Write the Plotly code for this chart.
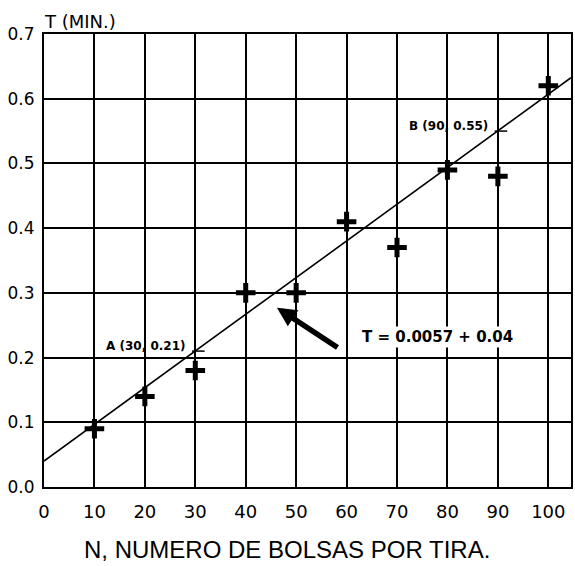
import plotly.graph_objects as go

# Data
n_values = [10, 20, 30, 40, 50, 60, 70, 80, 90, 100]
t_values = [0.09, 0.14, 0.18, 0.30, 0.30, 0.41, 0.37, 0.49, 0.48, 0.62]
fit_slope = 0.00567
fit_intercept = 0.04
fit_x = [0, 104.5]
fit_y = [fit_intercept + fit_slope * v for v in fit_x]
ref_labels = ["A (30, 0.21)", "B (90, 0.55)"]
ref_x = [30, 90]
ref_y = [0.21, 0.55]
x_ticks = [0, 10, 20, 30, 40, 50, 60, 70, 80, 90, 100]
y_ticks = [0.0, 0.1, 0.2, 0.3, 0.4, 0.5, 0.6, 0.7]

FONT = "Liberation Sans, Arial, sans-serif"
WIDE = "DejaVu Sans, sans-serif"

fig = go.Figure()
fig.add_trace(go.Scatter(x=fit_x, y=fit_y, mode="lines",
                         line=dict(color="black", width=1.6), showlegend=False, hoverinfo="skip"))
fig.add_trace(go.Scatter(x=n_values, y=t_values, mode="markers",
                         marker=dict(symbol="cross-thin", size=14, line=dict(color="black", width=5)),
                         showlegend=False))
fig.add_trace(go.Scatter(x=[v + 0.6 for v in ref_x], y=ref_y, mode="markers",
                         marker=dict(symbol="line-ew", size=9, line=dict(color="black", width=1.5)),
                         showlegend=False, hoverinfo="skip"))

for lbl, xv, yv in zip(ref_labels, ref_x, ref_y):
    fig.add_annotation(x=xv - 1.6, y=yv, text="<b>" + lbl + "</b>", showarrow=False,
                       xanchor="right", yanchor="middle", yshift=5,
                       font=dict(family=WIDE, size=12, color="black"))

fig.add_annotation(x=78.1, y=0.232, text="<b>T = 0.0057 + 0.04</b>", showarrow=False,
                   font=dict(family=WIDE, size=15, color="black"), bgcolor="white")
fig.add_annotation(x=46.2, y=0.277, ax=58.5, ay=0.214, axref="x", ayref="y",
                   xref="x", yref="y", text="", showarrow=True,
                   arrowhead=2, arrowsize=0.7, arrowwidth=5.5, arrowcolor="black")

fig.add_annotation(x=0, y=1, xref="paper", yref="paper", text="T (MIN.)", showarrow=False,
                   xanchor="left", yanchor="middle", yshift=13, xshift=-2,
                   font=dict(family=WIDE, size=18, color="black"))

fig.add_annotation(x=0.461, y=0, xref="paper", yref="paper", text="N, NUMERO DE BOLSAS POR TIRA.",
                   showarrow=False, xanchor="center", yanchor="middle", yshift=-62,
                   font=dict(family=FONT, size=24, color="black"))

fig.update_xaxes(range=[0, 104.5], tickvals=x_ticks, showgrid=True, gridcolor="black", gridwidth=2,
                 showline=True, linecolor="black", linewidth=2, mirror=True, zeroline=False,
                 ticks="", ticklabelstandoff=7, tickfont=dict(family=WIDE, size=18, color="black"))
fig.update_yaxes(range=[0, 0.7], tickvals=y_ticks, tickformat=".1f", showgrid=True, gridcolor="black",
                 gridwidth=2, showline=True, linecolor="black", linewidth=2, mirror=True, zeroline=False,
                 ticks="", ticklabelstandoff=4, tickfont=dict(family=WIDE, size=17, color="black"))

fig.update_layout(width=575, height=566, margin=dict(l=44, r=2, t=34, b=79),
                  plot_bgcolor="white", paper_bgcolor="white")

fig.write_html("out.html")
